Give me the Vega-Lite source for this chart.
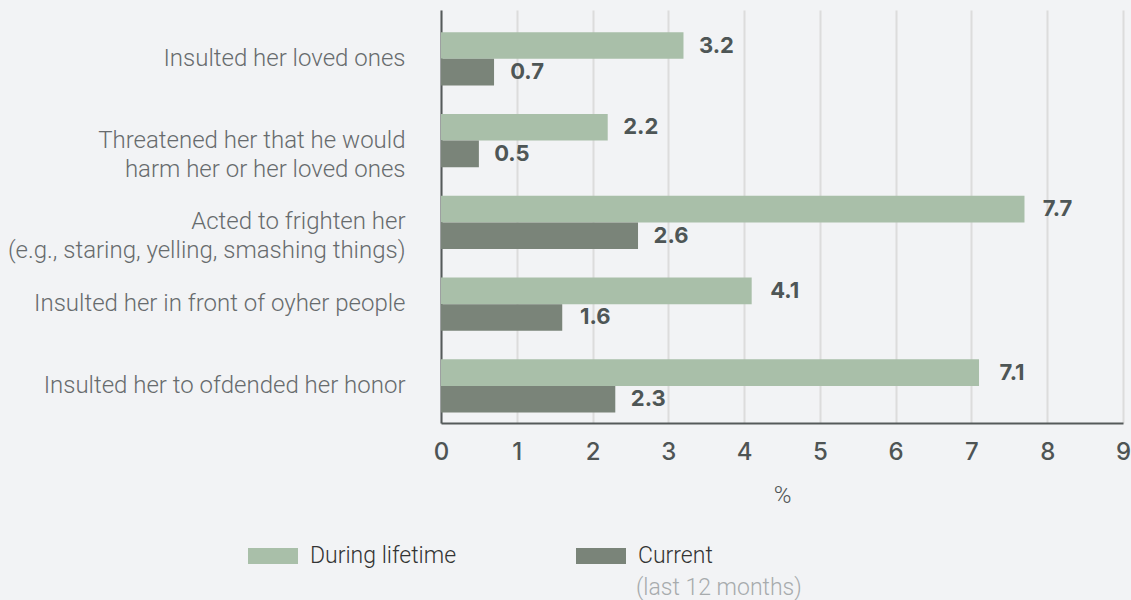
{
  "$schema": "https://vega.github.io/schema/vega-lite/v6.json",
  "width": 682,
  "height": 413,
  "autosize": "none",
  "padding": {"left": 441, "top": 10, "right": 8, "bottom": 177},
  "background": "#f2f3f5",
  "config": {"view": {"stroke": null}, "font": "Roboto"},
  "datasets": {
    "bars": [
      {"item": "Insulted her loved ones", "series": "During lifetime", "value": 3.2},
      {"item": "Insulted her loved ones", "series": "Current", "value": 0.7},
      {"item": "Threatened her that he would|harm her or her loved ones", "series": "During lifetime", "value": 2.2},
      {"item": "Threatened her that he would|harm her or her loved ones", "series": "Current", "value": 0.5},
      {"item": "Acted to frighten her|(e.g., staring, yelling, smashing things)", "series": "During lifetime", "value": 7.7},
      {"item": "Acted to frighten her|(e.g., staring, yelling, smashing things)", "series": "Current", "value": 2.6},
      {"item": "Insulted her in front of oyher people", "series": "During lifetime", "value": 4.1},
      {"item": "Insulted her in front of oyher people", "series": "Current", "value": 1.6},
      {"item": "Insulted her to ofdended her honor", "series": "During lifetime", "value": 7.1},
      {"item": "Insulted her to ofdended her honor", "series": "Current", "value": 2.3}
    ],
    "note": [
      {"note": "(last 12 months)"}
    ]
  },
  "layer": [
    {
      "data": {"name": "bars"},
      "mark": {"type": "bar"},
      "encoding": {
        "y": {
          "field": "item",
          "type": "nominal",
          "sort": null,
          "scale": {"paddingInner": 0.35, "paddingOuter": 0.2, "align": 0.68},
          "axis": {
            "title": null,
            "ticks": false,
            "grid": false,
            "domainColor": "#555a5a",
            "domainWidth": 2,
            "labelExpr": "split(datum.label, '|')",
            "labelFont": "Roboto",
            "labelFontWeight": 300,
            "labelFontSize": 24,
            "labelLineHeight": 29,
            "labelColor": "#676b6d",
            "labelPadding": 36,
            "labelLimit": 500
          }
        },
        "yOffset": {"field": "series", "sort": ["During lifetime", "Current"]},
        "x": {
          "field": "value",
          "type": "quantitative",
          "scale": {"domain": [0, 9], "nice": false},
          "axis": {
            "title": "%",
            "format": "d",
            "titleFont": "Roboto",
            "titleFontWeight": 300,
            "titleFontSize": 24,
            "titleColor": "#4e5454",
            "titlePadding": 19,
            "values": [0, 1, 2, 3, 4, 5, 6, 7, 8, 9],
            "ticks": false,
            "grid": true,
            "gridColor": "#dcdcdc",
            "gridWidth": 2,
            "domainColor": "#555a5a",
            "domainWidth": 2,
            "labelFont": "Inter",
            "labelFontWeight": 500,
            "labelFontSize": 24,
            "labelColor": "#4e5454",
            "labelPadding": 17,
            "labelFlush": false
          }
        },
        "color": {
          "field": "series",
          "type": "nominal",
          "scale": {"domain": ["During lifetime", "Current"], "range": ["#a9bfa9", "#7a8479"]},
          "legend": {
            "orient": "none",
            "legendX": -193,
            "legendY": 521,
            "direction": "horizontal",
            "title": null,
            "symbolType": "M-1,-0.32H1V0.32H-1Z",
            "symbolSize": 2500,
            "symbolStrokeWidth": 0,
            "labelFont": "Roboto",
            "labelFontWeight": 300,
            "labelFontSize": 23,
            "labelColor": "#333333",
            "labelOffset": 12,
            "labelLimit": 400,
            "columnPadding": 119
          }
        }
      }
    },
    {
      "data": {"name": "bars"},
      "mark": {"type": "text", "align": "center", "baseline": "middle", "dx": 33, "font": "Inter", "fontWeight": 700, "fontSize": 22, "fill": "#4e5656"},
      "encoding": {
        "y": {"field": "item", "type": "nominal", "sort": null},
        "yOffset": {"field": "series", "sort": ["During lifetime", "Current"]},
        "x": {"field": "value", "type": "quantitative"},
        "text": {"field": "value", "type": "quantitative", "format": ".1f"}
      }
    },
    {
      "data": {"name": "note"},
      "mark": {"type": "point", "opacity": 0},
      "encoding": {
        "shape": {
          "field": "note",
          "type": "nominal",
          "legend": {
            "orient": "none",
            "legendX": 172,
            "legendY": 566,
            "title": null,
            "symbolSize": 1,
            "symbolOpacity": 0,
            "symbolStrokeWidth": 0,
            "labelOffset": 0,
            "labelFont": "Roboto",
            "labelFontWeight": 300,
            "labelFontSize": 23,
            "labelColor": "#a7abad",
            "labelLimit": 400
          }
        }
      }
    }
  ]
}
